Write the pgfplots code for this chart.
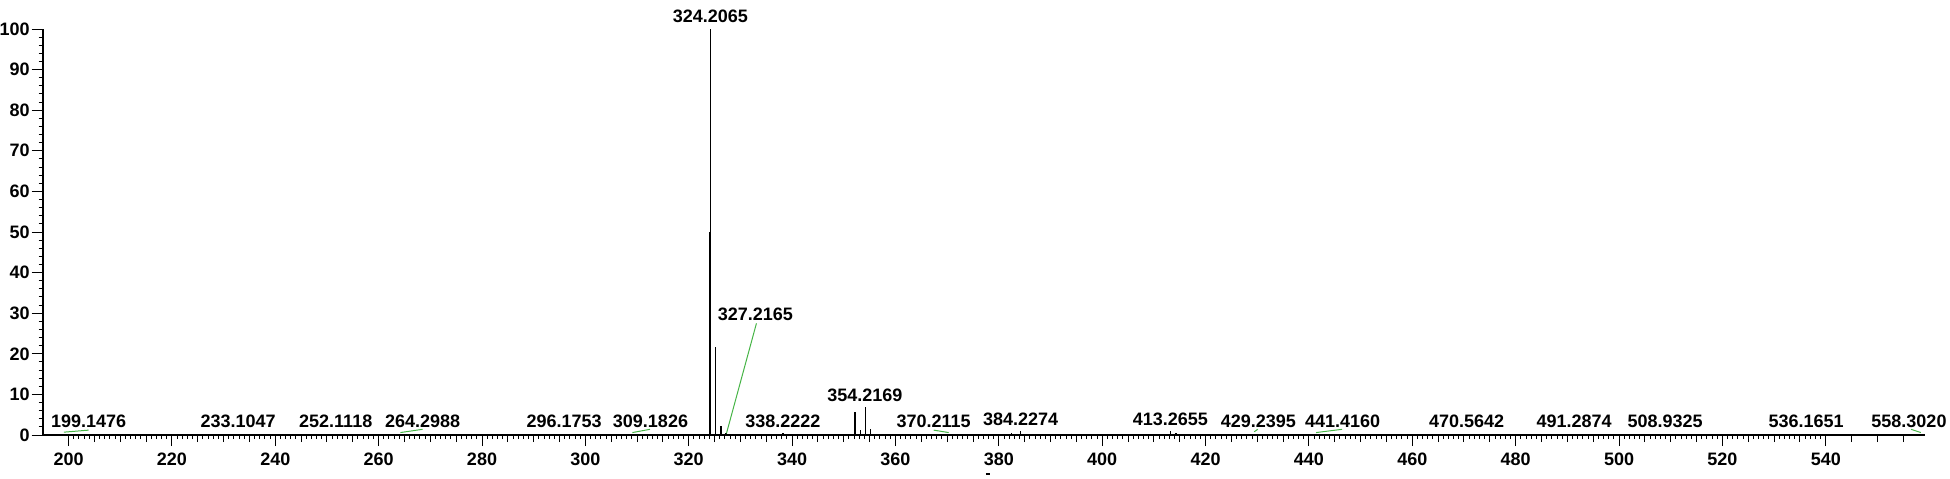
\documentclass[border=0pt]{standalone}
\usepackage{fontspec}
\setmainfont{Liberation Sans}
\usepackage{pgfplots}
\pgfplotsset{compat=1.18}
\definecolor{leader}{RGB}{70,180,70}
\pgfplotstableread{
mz int
199.1476 0.2
233.1047 0.2
252.1118 0.2
264.2988 0.2
296.1753 0.2
309.1826 0.2
324.00 50
324.2065 100
325.21 21.7
326.21 2.2
327.2165 0.4
338.2222 0.4
352.20 5.6
353.20 1.2
354.2169 6.8
355.22 1.4
370.2115 0.2
382.50 0.4
384.2274 1.0
413.2655 1.0
414.27 0.5
429.2395 0.2
441.4160 0.2
470.5642 0.2
491.2874 0.2
508.9325 0.2
536.1651 0.2
558.3020 0.2
}\peaks
\begin{document}
\begin{tikzpicture}
\begin{axis}[
  at={(0,0)}, anchor=south west,
  scale only axis, width=941.15pt, height=203pt,
  xmin=195, xmax=559.2, ymin=0, ymax=100,
  axis lines=left, axis line style={-, line width=0.9pt},
  clip=false,
  tick align=outside,
  xtick={200,220,...,540}, ytick={0,10,...,100},
  minor x tick num=19, minor y tick num=4,
  major tick length=5.5pt, minor tick length=2pt,
  every tick/.style={black, line width=0.5pt},
  extra x ticks={200,205,...,555}, extra x tick labels={},
  extra x tick style={major tick length=3.5pt},
  tick label style={font=\fontsize{9}{10}\selectfont\bfseries},
  yticklabel style={xshift=2.5pt},
  /pgf/number format/assume math mode=true,
]
\addplot[ycomb, black, line width=0.7pt, mark=none] table[x=mz, y=int] {\peaks};
\tikzset{lbl/.style={font=\fontsize{9}{10}\selectfont\bfseries, anchor=center, inner sep=0pt}}
\node[lbl] at (axis cs:203.9,3.3) {199.1476};
\node[lbl] at (axis cs:232.8,3.3) {233.1047};
\node[lbl] at (axis cs:251.7,3.3) {252.1118};
\node[lbl] at (axis cs:268.5,3.3) {264.2988};
\node[lbl] at (axis cs:295.9,3.3) {296.1753};
\node[lbl] at (axis cs:312.6,3.3) {309.1826};
\node[lbl] at (axis cs:324.2,103.2) {324.2065};
\node[lbl] at (axis cs:332.9,29.7) {327.2165};
\node[lbl] at (axis cs:338.2,3.3) {338.2222};
\node[lbl] at (axis cs:354.1,9.85) {354.2169};
\node[lbl] at (axis cs:367.4,3.3) {370.2115};
\node[lbl] at (axis cs:384.2,3.9) {384.2274};
\node[lbl] at (axis cs:413.2,3.9) {413.2655};
\node[lbl] at (axis cs:430.2,3.3) {429.2395};
\node[lbl] at (axis cs:446.5,3.3) {441.4160};
\node[lbl] at (axis cs:470.5,3.3) {470.5642};
\node[lbl] at (axis cs:491.3,3.3) {491.2874};
\node[lbl] at (axis cs:508.9,3.3) {508.9325};
\node[lbl] at (axis cs:536.2,3.3) {536.1651};
\node[lbl] at (axis cs:556.1,3.3) {558.3020};
\draw[leader, line width=0.5pt] (axis cs:199.1,0.7) -- (axis cs:203.9,1.2);
\draw[leader, line width=0.5pt] (axis cs:264.2,0.6) -- (axis cs:268.5,1.4);
\draw[leader, line width=0.5pt] (axis cs:309.1,0.6) -- (axis cs:312.5,1.4);
\draw[leader, line width=0.5pt] (axis cs:327.3,0.4) -- (axis cs:333.1,27.5);
\draw[leader, line width=0.5pt] (axis cs:367.4,1.2) -- (axis cs:370.3,0.6);
\draw[leader, line width=0.5pt] (axis cs:429.4,0.8) -- (axis cs:430.1,1.4);
\draw[leader, line width=0.5pt] (axis cs:441.4,0.6) -- (axis cs:446.4,1.4);
\draw[leader, line width=0.5pt] (axis cs:556.5,1.4) -- (axis cs:558.4,0.6);
\end{axis}
\draw[black, line width=0.6pt] (471.6pt,-19.5pt) -- (473.6pt,-19.5pt);
\pgfresetboundingbox
\path (-21.35pt,-21.5pt) rectangle (953.65pt,217.5pt);
\end{tikzpicture}
\end{document}
